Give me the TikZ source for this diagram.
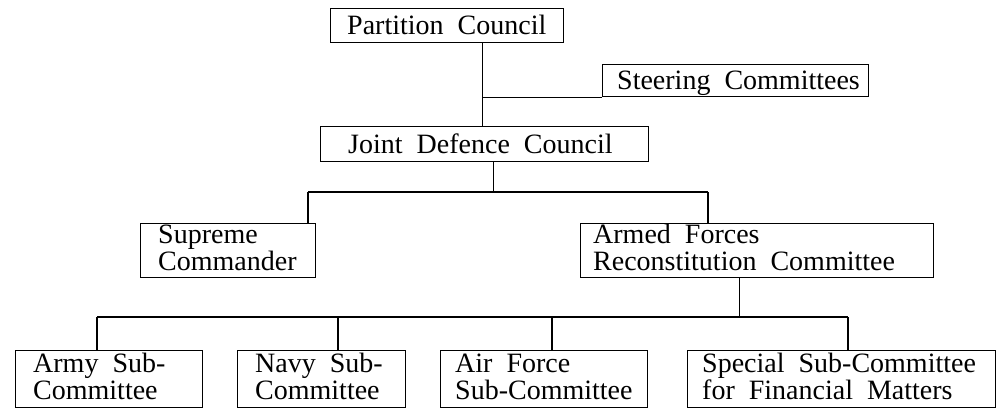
\documentclass[tikz,border=0pt]{standalone}
\usepackage{fontspec}
\setmainfont{Liberation Serif}[WordSpace=2]
\begin{document}
\begin{tikzpicture}[x=1pt,y=-1pt,
  box/.style={draw, line width=1.3pt, anchor=north west, inner sep=0pt},
  lbl/.style={anchor=base west, inner sep=0pt, align=left, font=\fontsize{28}{27}\selectfont},
  conn/.style={line width=1.3pt}]
\useasboundingbox (0,0) rectangle (998,410);
% boxes
\node[box, minimum width=233pt, minimum height=34pt] (pc) at (330,8) {};
\node[box, minimum width=266pt, minimum height=32pt] (sc) at (602,64) {};
\node[box, minimum width=328pt, minimum height=35pt] (jdc) at (320,126) {};
\node[box, minimum width=175pt, minimum height=54pt] (sup) at (140,223) {};
\node[box, minimum width=353pt, minimum height=54pt] (afrc) at (580,223) {};
\node[box, minimum width=187pt, minimum height=57pt] (army) at (15,350) {};
\node[box, minimum width=168pt, minimum height=57pt] (navy) at (237,350) {};
\node[box, minimum width=207pt, minimum height=57pt] (air) at (440,350) {};
\node[box, minimum width=308pt, minimum height=57pt] (spec) at (687,350) {};
% labels (base anchor = baseline of the last line)
\node[lbl] (pct) at ([xshift=17pt,yshift=-26pt]pc.north west) {Partition Council};
\node[lbl] (sct) at ([xshift=15pt,yshift=-25pt]sc.north west) {Steering Committees};
\node[lbl] (jdct) at ([xshift=28pt,yshift=-27pt]jdc.north west) {Joint Defence Council};
\node[lbl] (supt) at ([xshift=18pt,yshift=-47pt]sup.north west) {Supreme\\Commander};
\node[lbl] (afrct) at ([xshift=13pt,yshift=-47pt]afrc.north west) {Armed Forces\\Reconstitution Committee};
\node[lbl] (armyt) at ([xshift=18pt,yshift=-49pt]army.north west) {Army Sub-\\Committee};
\node[lbl] (navyt) at ([xshift=18pt,yshift=-49pt]navy.north west) {Navy Sub-\\Committee};
\node[lbl] (airt) at ([xshift=15pt,yshift=-49pt]air.north west) {Air Force\\Sub-Committee};
\node[lbl] (spect) at ([xshift=15pt,yshift=-49pt]spec.north west) {Special Sub-Committee\\for Financial Matters};
% bus coordinates
\coordinate (b1l) at (308,192);
\coordinate (b1r) at (708,192);
\coordinate (b2l) at (97,317);
\coordinate (b2n) at (338,317);
\coordinate (b2a) at (552,317);
\coordinate (b2r) at (848,317);
% connectors
\draw[conn] ([xshift=-2pt]jdc.north) -- ([xshift=-2pt]jdc.north |- pc.south);
\draw[conn] ([xshift=-2pt]jdc.north |- sc.south west) -- (sc.south west);
\draw[conn] ([xshift=9pt]jdc.south) -- ([xshift=9pt]jdc.south |- b1l);
\draw[conn] (b1l) -- (b1r);
\draw[conn] (b1l) -- (b1l |- sup.north);
\draw[conn] (b1r) -- (b1r |- afrc.north);
\draw[conn] ([xshift=-18pt]afrc.south) -- ([xshift=-18pt]afrc.south |- b2l);
\draw[conn] (b2l) -- (b2r);
\draw[conn] (b2l) -- (b2l |- army.north);
\draw[conn] (b2n) -- (b2n |- navy.north);
\draw[conn] (b2a) -- (b2a |- air.north);
\draw[conn] (b2r) -- (b2r |- spec.north);
\end{tikzpicture}
\end{document}
